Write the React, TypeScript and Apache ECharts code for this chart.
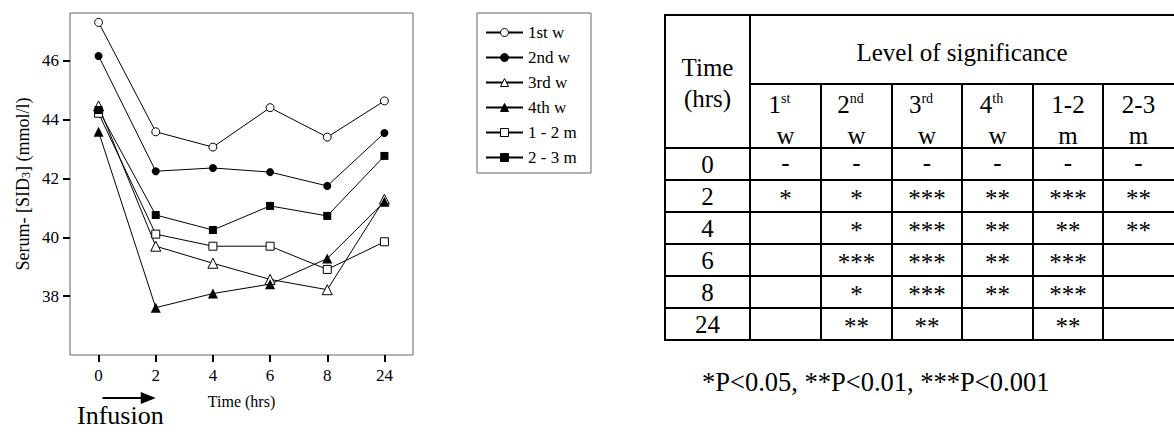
import React, { useEffect, useRef } from 'react';
import * as echarts from 'echarts';

// ---- chart data ----
const timeLabels = ['0', '2', '4', '6', '8', '24'];
const seriesNames = ['1st w', '2nd w', '3rd w', '4th w', '1 - 2 m', '2 - 3 m'];
const week1 = [47.31, 43.59, 43.07, 44.41, 43.41, 44.64];
const week2 = [46.17, 42.25, 42.36, 42.22, 41.75, 43.55];
const week3 = [44.47, 39.7, 39.12, 38.57, 38.22, 41.3];
const week4 = [43.59, 37.61, 38.09, 38.41, 39.28, 41.21];
const month12 = [44.22, 40.11, 39.7, 39.7, 38.91, 39.85];
const month23 = [44.33, 40.76, 40.25, 41.07, 40.73, 42.77];
const yTicks = [38, 40, 42, 44, 46];

// ---- table data ----
const tableTimes = ['0', '2', '4', '6', '8', '24'];
const colHeadTop = ['1{sup|st}', '2{sup|nd}', '3{sup|rd}', '4{sup|th}', '1-2', '2-3'];
const colHeadBottom = ['w', 'w', 'w', 'w', 'm', 'm'];
const sig1w = ['-', '*', '', '', '', ''];
const sig2w = ['-', '*', '*', '***', '*', '**'];
const sig3w = ['-', '***', '***', '***', '***', '**'];
const sig4w = ['-', '**', '**', '**', '**', ''];
const sig12m = ['-', '***', '**', '***', '***', '**'];
const sig23m = ['-', '**', '**', '', '', ''];
const footnote = '*P<0.05, **P<0.01, ***P<0.001';

const FONT = "'Liberation Serif', 'Times New Roman', serif";

const seriesData = [week1, week2, week3, week4, month12, month23];
const symbols = ['circle', 'circle', 'triangle', 'triangle', 'rect', 'rect'];
const hollow = [true, false, true, false, true, false];
const symSizes = [8, 8, 10, 10, 8, 8];

// table layout
const colX = [665, 750, 821, 892, 962, 1033, 1103, 1176];
const rowY = [15, 84, 148, 180, 212, 244, 276, 308, 340];

function buildTable(): any[] {
  const els: any[] = [];
  const ln = (x1: number, y1: number, x2: number, y2: number) => ({
    type: 'line',
    silent: true,
    shape: { x1, y1, x2, y2 },
    style: { stroke: '#000', lineWidth: 2 },
  });
  const last = colX[colX.length - 1];
  const bottom = rowY[rowY.length - 1];
  els.push(ln(colX[0] - 1, rowY[0], last, rowY[0]));
  els.push(ln(colX[1], rowY[1], last, rowY[1]));
  for (let i = 2; i < rowY.length; i++) els.push(ln(colX[0] - 1, rowY[i], last, rowY[i]));
  els.push(ln(colX[0], rowY[0], colX[0], bottom + 1));
  els.push(ln(colX[1], rowY[0], colX[1], bottom + 1));
  for (let j = 2; j < colX.length - 1; j++) els.push(ln(colX[j], rowY[1], colX[j], bottom + 1));

  const txt = (text: string, x: number, y: number, size = 25, extra: any = {}) => ({
    type: 'text',
    silent: true,
    x,
    y,
    style: {
      text,
      fontFamily: FONT,
      fontSize: size,
      fill: '#000',
      align: 'center',
      verticalAlign: 'middle',
      ...extra,
    },
  });
  const c0 = (colX[0] + colX[1]) / 2;
  els.push(txt('Time', c0, 67));
  els.push(txt('(hrs)', c0, 98));
  els.push(txt('Level of significance', (colX[1] + last - 2) / 2, 52));
  const cols = [sig1w, sig2w, sig3w, sig4w, sig12m, sig23m];
  for (let j = 0; j < 6; j++) {
    const cx = (colX[j + 1] + colX[j + 2]) / 2 - (j === 5 ? 1 : 0);
    els.push(
      txt(colHeadTop[j], cx - (j < 4 ? 6 : 0), 104, 25, {
        rich: { sup: { fontSize: 14, fontFamily: FONT, verticalAlign: 'top', lineHeight: 25, padding: [0, 0, 8, 0] } },
      })
    );
    els.push(txt(colHeadBottom[j], cx, 135));
  }
  for (let i = 0; i < tableTimes.length; i++) {
    const cy = (rowY[i + 2] + rowY[i + 3]) / 2;
    els.push(txt(tableTimes[i], c0, cy));
    for (let j = 0; j < 6; j++) {
      const v = cols[j][i];
      if (!v) continue;
      const cx = (colX[j + 1] + colX[j + 2]) / 2 - (j === 5 ? 1 : 0);
      els.push(txt(v, cx, cy + (v === '-' ? -2 : 2), 25));
    }
  }
  els.push(txt(footnote, 702, 382, 26.5, { align: 'left' }));
  return els;
}

export default function App() {
  const ref = useRef<HTMLDivElement>(null);
  useEffect(() => {
    if (!ref.current) return;
    const chart = echarts.init(ref.current, null, { renderer: 'svg' });
    const series = seriesNames.map((name, k) => ({
      name,
      type: 'line',
      data: seriesData[k],
      symbol: symbols[k],
      symbolSize: symSizes[k],
      showAllSymbol: true,
      silent: true,
      lineStyle: { color: '#000', width: 1 },
      itemStyle: hollow[k]
        ? { color: '#fff', borderColor: '#000', borderWidth: 1 }
        : { color: '#000', borderColor: '#000', borderWidth: 0 },
      emphasis: { disabled: true },
      z: 3,
    }));
    chart.setOption({
      animation: false,
      backgroundColor: '#fff',
      textStyle: { fontFamily: FONT },
      grid: {
        left: 70,
        top: 13,
        width: 343,
        height: 342,
        show: true,
        borderColor: '#666',
        borderWidth: 1,
        containLabel: false,
        outerBoundsMode: 'none',
      },
      xAxis: {
        type: 'category',
        data: timeLabels,
        boundaryGap: true,
        name: 'Time (hrs)',
        nameLocation: 'middle',
        nameGap: 38,
        nameTextStyle: { fontSize: 16, color: '#000', fontFamily: FONT },
        axisLine: { show: false },
        axisTick: { show: true, alignWithLabel: true, length: 7, lineStyle: { color: '#000', width: 2 } },
        axisLabel: { fontSize: 17, color: '#000', margin: 12, fontFamily: FONT },
        splitLine: { show: false },
      },
      yAxis: {
        type: 'value',
        min: 36,
        max: 47.63,
        name: 'Serum- [SID{sub|3}] (mmol/l)',
        nameLocation: 'middle',
        nameGap: 38,
        nameRotate: 90,
        nameTextStyle: {
          fontSize: 18,
          color: '#000',
          fontFamily: FONT,
          rich: { sub: { fontSize: 12, fontFamily: FONT, color: '#000', verticalAlign: 'bottom', lineHeight: 18 } },
        },
        axisLine: { show: false },
        axisTick: { show: true, length: 7, lineStyle: { color: '#000', width: 2 }, customValues: yTicks },
        axisLabel: { fontSize: 17, color: '#000', margin: 11, fontFamily: FONT, customValues: yTicks },
        splitLine: { show: false },
      },
      legend: {
        data: seriesNames,
        orient: 'vertical',
        left: 485,
        top: 24,
        padding: 0,
        itemWidth: 37,
        itemHeight: 10,
        itemGap: 8,
        selectedMode: false,
        itemStyle: { borderWidth: 1 },
        textStyle: { fontSize: 17, color: '#000', fontFamily: FONT, lineHeight: 17 },
      },
      series,
    });
    const x0 = chart.convertToPixel({ xAxisIndex: 0 }, timeLabels[0]) as number;
    const x2 = chart.convertToPixel({ xAxisIndex: 0 }, timeLabels[1]) as number;
    const graphics: any[] = [
      {
        type: 'rect',
        silent: true,
        shape: { x: 477, y: 13, width: 114, height: 160 },
        style: { fill: 'none', stroke: '#666', lineWidth: 1 },
      },
      {
        type: 'line',
        silent: true,
        shape: { x1: x0 + 4, y1: 398, x2: x2 - 12, y2: 398 },
        style: { stroke: '#000', lineWidth: 2 },
      },
      {
        type: 'polygon',
        silent: true,
        shape: { points: [[x2 - 15, 392], [x2, 398], [x2 - 15, 404]] },
        style: { fill: '#000' },
      },
      {
        type: 'text',
        silent: true,
        x: 77,
        y: 415,
        style: { text: 'Infusion', fontFamily: FONT, fontSize: 26, fill: '#000', align: 'left', verticalAlign: 'middle' },
      },
      ...buildTable(),
    ];
    chart.setOption({ graphic: graphics });
    return () => chart.dispose();
  }, []);
  return (
    <div
      ref={ref}
      style={{ position: 'absolute', left: 0, top: 0, width: 1174, height: 436, background: '#fff' }}
    />
  );
}
